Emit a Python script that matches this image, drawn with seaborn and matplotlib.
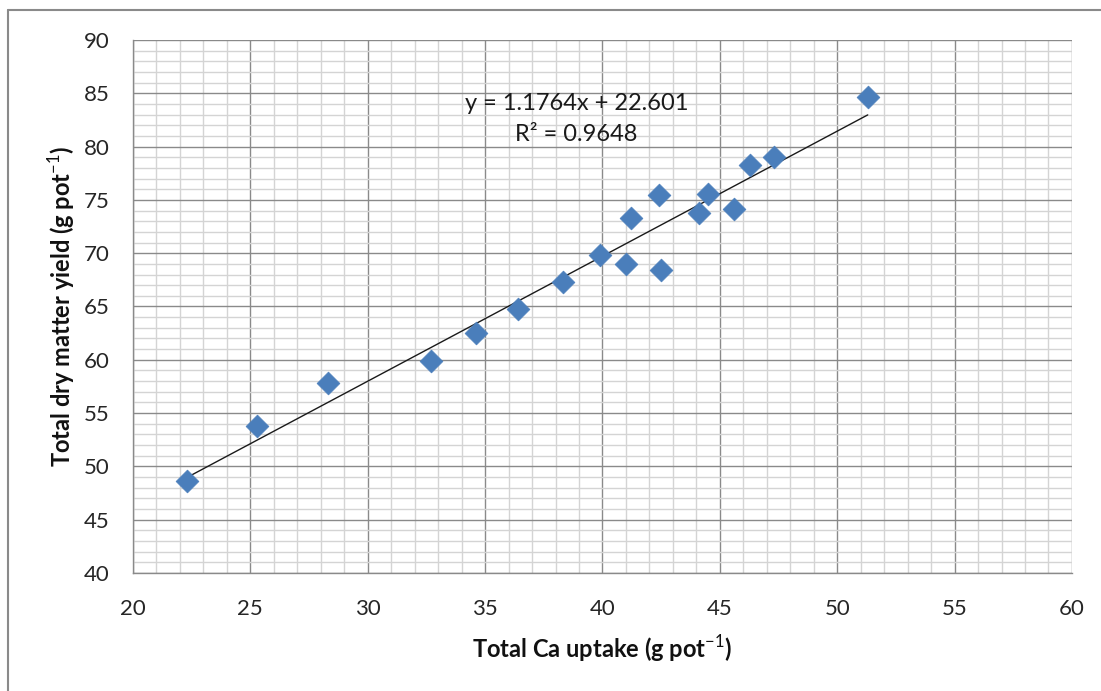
import numpy as np
import pandas as pd
import matplotlib
matplotlib.use("Agg")
import matplotlib.pyplot as plt
from matplotlib.ticker import MultipleLocator
from matplotlib.lines import Line2D
import seaborn as sns

# Data
ca_uptake = [22.3, 25.3, 28.3, 32.7, 34.6, 36.4, 38.3, 39.9, 41.0, 41.2, 42.5, 42.4,
             44.1, 44.5, 45.6, 46.3, 47.3, 51.3]
dry_matter = [48.6, 53.8, 57.8, 59.9, 62.5, 64.8, 67.3, 69.8, 69.0, 73.3, 68.4, 75.5,
              73.8, 75.6, 74.1, 78.3, 79.0, 84.7]
x_ticks = [20, 25, 30, 35, 40, 45, 50, 55, 60]
y_ticks = [40, 45, 50, 55, 60, 65, 70, 75, 80, 85, 90]
equation_text = "y = 1.1764x + 22.601\nR² = 0.9648"
x_label = "Total Ca uptake (g pot$^{-1}$)"
y_label = "Total dry matter yield (g pot$^{-1}$)"

df = pd.DataFrame({"x": ca_uptake, "y": dry_matter})

sns.set_theme(style="white")
plt.rcParams["font.family"] = ["Lato", "DejaVu Sans"]
plt.rcParams["mathtext.fontset"] = "custom"
plt.rcParams["mathtext.rm"] = "Lato"
plt.rcParams["mathtext.bf"] = "Lato:bold"

fig = plt.figure(figsize=(11.01, 6.91), dpi=100)
ax = fig.add_axes([0.1208, 0.1708, 0.9736 - 0.1208, 0.9421 - 0.1708])

ax.set_xlim(20, 60)
ax.set_ylim(40, 90)
ax.xaxis.set_minor_locator(MultipleLocator(1))
ax.yaxis.set_minor_locator(MultipleLocator(1))
ax.set_xticks(x_ticks)
ax.set_yticks(y_ticks)
ax.grid(which="minor", color="#d4d4d4", linewidth=1.0)
ax.grid(which="major", color="#8a8a8a", linewidth=1.0)
ax.set_axisbelow(True)

sns.regplot(data=df, x="x", y="y", ax=ax, scatter=False, ci=None, truncate=True,
            line_kws=dict(color="#1a1a1a", linewidth=1.0, zorder=3))
sns.scatterplot(data=df, x="x", y="y", ax=ax, marker="D", s=135, color="#4a7ebb",
                edgecolor="#4a7ebb", linewidth=0.5, zorder=4)

for side in ["top", "right"]:
    ax.spines[side].set_visible(False)
for side in ["left", "bottom"]:
    ax.spines[side].set_color("#8a8a8a")
    ax.spines[side].set_linewidth(1.0)

ax.tick_params(axis="both", which="major", direction="out", length=7, width=1,
               color="#8a8a8a", labelsize=16, labelcolor="#262626")
ax.tick_params(axis="y", which="major", pad=10)
ax.tick_params(axis="x", which="major", pad=12)
ax.tick_params(axis="both", which="minor", length=0)

ax.set_xlabel(x_label, fontsize=17, fontweight="bold", labelpad=10, color="#111111")
ax.set_ylabel(y_label, fontsize=17, fontweight="bold", labelpad=4, color="#111111")

ax.text(38.9, 82.6, equation_text, ha="center", va="center", fontsize=17,
        color="#1a1a1a", linespacing=1.55, zorder=5)

# outer frame (left and top edges)
fig.add_artist(Line2D([8 / 1101, 8 / 1101], [0, 1 - 10 / 691], transform=fig.transFigure,
                      color="#8a8a8a", linewidth=1.5))
fig.add_artist(Line2D([8 / 1101, 1], [1 - 10 / 691, 1 - 10 / 691], transform=fig.transFigure,
                      color="#8a8a8a", linewidth=1.5))

fig.savefig("out.png", dpi=100)
